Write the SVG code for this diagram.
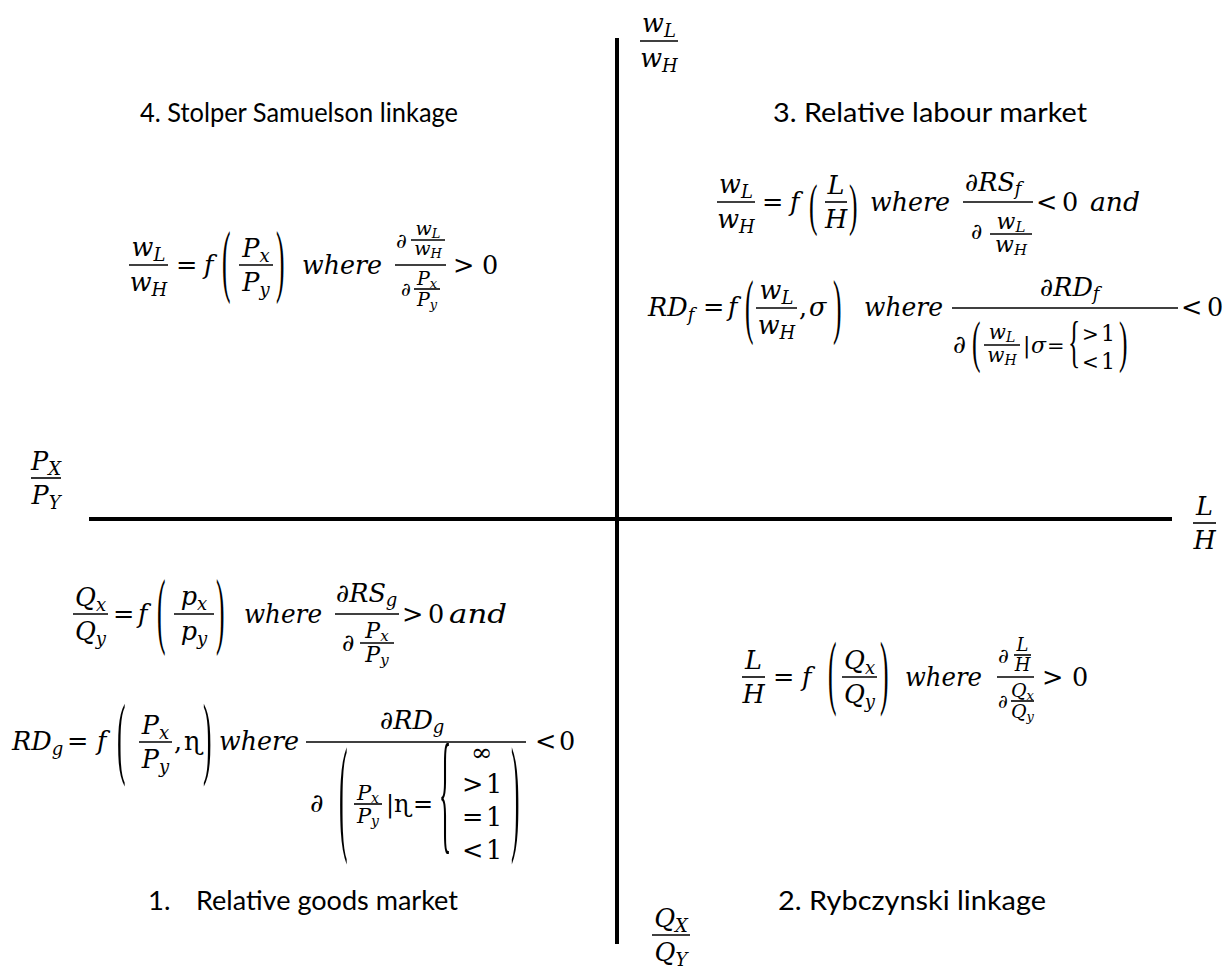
<svg xmlns="http://www.w3.org/2000/svg" width="1230" height="971" viewBox="0 0 1230 971">
<style>
.t{font-family:Lato,"Liberation Sans",sans-serif;font-size:27.5px;fill:#000}
.m{font-family:"DejaVu Serif",serif;font-style:italic;font-size:25.5px;fill:#000}
.u{font-family:"DejaVu Serif",serif;font-style:normal;font-size:25.5px;fill:#000}
.d{font-family:"Liberation Serif","DejaVu Serif",serif;font-style:normal;font-size:25.5px;fill:#000}
.c{text-anchor:middle}
.s{font-size:18px}
.bar{stroke:#000;stroke-width:1.6}
.axis{stroke:#000;stroke-width:4}
</style>
<rect width="1230" height="971" fill="#fff"/>
<g id="axes">
<line class="axis" x1="617" y1="38" x2="617" y2="944"/>
<line class="axis" x1="89" y1="519" x2="1172" y2="519"/>
</g>
<g id="label-wL-wH">
<line class="bar" x1="640" y1="41" x2="678" y2="41"/>
<text class="m c" x="659" y="32">w<tspan class="s" dy="5">L</tspan></text>
<text class="m c" x="659" y="67">w<tspan class="s" dy="5">H</tspan></text>
</g>
<g id="label-PX-PY">
<line class="bar" x1="31" y1="478" x2="61" y2="478"/>
<text class="m c" x="46" y="470">P<tspan class="s" dy="5">X</tspan></text>
<text class="m c" x="46" y="504">P<tspan class="s" dy="5">Y</tspan></text>
</g>
<g id="label-L-H">
<line class="bar" x1="1193" y1="523" x2="1216" y2="523"/>
<text class="m c" x="1204.5" y="515">L</text>
<text class="m c" x="1204.5" y="549">H</text>
</g>
<g id="label-QX-QY">
<line class="bar" x1="652" y1="935" x2="690" y2="935"/>
<text class="m c" x="671" y="927">Q<tspan class="s" dy="5">X</tspan></text>
<text class="m c" x="671" y="961">Q<tspan class="s" dy="5">Y</tspan></text>
</g>
<g id="title4"><text class="t" x="140" y="122" textLength="318" lengthAdjust="spacingAndGlyphs">4. Stolper Samuelson linkage</text></g>
<g id="title3"><text class="t" x="773" y="122" textLength="314" lengthAdjust="spacingAndGlyphs">3. Relative labour market</text></g>
<g id="title1"><text class="t" x="148" y="910">1.</text><text class="t" x="196" y="910" textLength="262" lengthAdjust="spacingAndGlyphs">Relative goods market</text></g>
<g id="title2"><text class="t" x="778" y="910" textLength="268" lengthAdjust="spacingAndGlyphs">2. Rybczynski linkage</text></g>

<g id="eq4">
<line class="bar" x1="129" y1="265" x2="168" y2="265"/>
<text class="m c" x="148.5" y="256">w<tspan class="s" dy="5">L</tspan></text>
<text class="m c" x="148.5" y="291">w<tspan class="s" dy="5">H</tspan></text>
<text class="u" x="176" y="274">=</text>
<text class="m" x="204" y="274">f</text>
<text class="d" transform="translate(222,287.2) scale(1,3.17)">(</text>
<line class="bar" x1="239" y1="265" x2="273" y2="265"/>
<text class="m c" x="256" y="257">P<tspan class="s" dy="5">x</tspan></text>
<text class="m c" x="256" y="291">P<tspan class="s" dy="5">y</tspan></text>
<text class="d" transform="translate(276,287.2) scale(1,3.17)">)</text>
<text class="m" x="302" y="274" textLength="80" lengthAdjust="spacingAndGlyphs">where</text>
<line class="bar" x1="395" y1="265" x2="446" y2="265"/>
<text class="m" x="396" y="248" style="font-size:21px">∂</text>
<line class="bar" x1="411" y1="240" x2="445" y2="240"/>
<text class="m c" x="428" y="235" style="font-size:19px">w<tspan style="font-size:13px" dy="3">L</tspan></text>
<text class="m c" x="428" y="255" style="font-size:19px">w<tspan style="font-size:13px" dy="3">H</tspan></text>
<text class="m" x="401" y="296" style="font-size:19px">∂</text>
<line class="bar" x1="414" y1="289" x2="440" y2="289"/>
<text class="m c" x="427" y="285" style="font-size:19px">P<tspan style="font-size:13px" dy="3">x</tspan></text>
<text class="m c" x="427" y="306" style="font-size:19px">P<tspan style="font-size:13px" dy="3">y</tspan></text>
<text class="u" x="453" y="274">&gt;</text>
<text class="u" x="482" y="274">0</text>
</g>

<g id="eq3a">
<line class="bar" x1="717" y1="202" x2="755" y2="202"/>
<text class="m c" x="736" y="193">w<tspan class="s" dy="5">L</tspan></text>
<text class="m c" x="736" y="228">w<tspan class="s" dy="5">H</tspan></text>
<text class="u" x="762" y="211">=</text>
<text class="m" x="790" y="211">f</text>
<text class="d" transform="translate(809,224.1) scale(1,2.21)">(</text>
<line class="bar" x1="825" y1="202" x2="847" y2="202"/>
<text class="m c" x="836" y="194">L</text>
<text class="m c" x="836" y="228">H</text>
<text class="d" transform="translate(849,224.1) scale(1,2.21)">)</text>
<text class="m" x="870" y="211" textLength="80" lengthAdjust="spacingAndGlyphs">where</text>
<line class="bar" x1="963" y1="202" x2="1033" y2="202"/>
<text class="m" x="965" y="191">∂RS<tspan class="s" dy="4">f</tspan></text>
<text class="m" x="971" y="239" style="font-size:22px">∂</text>
<line class="bar" x1="990" y1="234" x2="1032" y2="234"/>
<text class="m c" x="1011" y="229" style="font-size:22px">w<tspan style="font-size:15px" dy="3">L</tspan></text>
<text class="m c" x="1011" y="252" style="font-size:22px">w<tspan style="font-size:15px" dy="3">H</tspan></text>
<text class="u" x="1036" y="211">&lt;</text>
<text class="u" x="1062" y="211">0</text>
<text class="m" x="1090" y="211" textLength="50" lengthAdjust="spacingAndGlyphs">and</text>
</g>

<g id="eq3b">
<text class="m" x="648" y="316">RD<tspan class="s" dy="5">f</tspan></text>
<text class="u" x="703" y="316">=</text>
<text class="m" x="728" y="316">f</text>
<text class="d" transform="translate(745,329.8) scale(1,2.8)">(</text>
<line class="bar" x1="756" y1="308" x2="797" y2="308"/>
<text class="m c" x="776.5" y="299">w<tspan class="s" dy="5">L</tspan></text>
<text class="m c" x="776.5" y="334">w<tspan class="s" dy="5">H</tspan></text>
<text class="u" x="799" y="316">,</text>
<text class="m" x="809" y="316">σ</text>
<text class="d" transform="translate(833,329.8) scale(1,2.8)">)</text>
<text class="m" x="864" y="316" textLength="79" lengthAdjust="spacingAndGlyphs">where</text>
<line class="bar" x1="952" y1="308" x2="1178" y2="308"/>
<text class="m" x="1040" y="296">∂RD<tspan class="s" dy="4">f</tspan></text>
<text class="m" x="953" y="353" style="font-size:25px">∂</text>
<text class="d" transform="translate(972,361.3) scale(1,2.25)">(</text>
<line class="bar" x1="984" y1="345" x2="1020" y2="345"/>
<text class="m c" x="1002" y="339" style="font-size:20px">w<tspan style="font-size:14px" dy="3">L</tspan></text>
<text class="m c" x="1002" y="362" style="font-size:20px">w<tspan style="font-size:14px" dy="3">H</tspan></text>
<text class="u" x="1023" y="353" style="font-size:22px">|</text>
<text class="m" x="1031" y="353" style="font-size:22px">σ</text>
<text class="u" x="1047" y="353" style="font-size:21px">=</text>
<text class="d" transform="translate(1068,361.3) scale(1,2.25)">{</text>
<text class="u" x="1082" y="341" style="font-size:20px">&gt;</text>
<text class="u" x="1101" y="341" style="font-size:22px">1</text>
<text class="u" x="1082" y="369" style="font-size:20px">&lt;</text>
<text class="u" x="1101" y="369" style="font-size:22px">1</text>
<text class="d" transform="translate(1119,361.3) scale(1,2.25)">)</text>
<text class="u" x="1181" y="316">&lt;</text>
<text class="u" x="1207" y="316">0</text>
</g>

<g id="eq2">
<line class="bar" x1="742" y1="677" x2="765" y2="677"/>
<text class="m c" x="753.5" y="669">L</text>
<text class="m c" x="753.5" y="703">H</text>
<text class="u" x="773" y="686">=</text>
<text class="m" x="802" y="686">f</text>
<text class="d" transform="translate(828,698.5) scale(1,3.22)">(</text>
<line class="bar" x1="842" y1="677" x2="877" y2="677"/>
<text class="m c" x="859.5" y="669">Q<tspan class="s" dy="5">x</tspan></text>
<text class="m c" x="859.5" y="703">Q<tspan class="s" dy="5">y</tspan></text>
<text class="d" transform="translate(880,698.5) scale(1,3.22)">)</text>
<text class="m" x="905" y="686" textLength="77" lengthAdjust="spacingAndGlyphs">where</text>
<line class="bar" x1="997" y1="677" x2="1034" y2="677"/>
<text class="m" x="998" y="663" style="font-size:21px">∂</text>
<line class="bar" x1="1014" y1="655" x2="1031" y2="655"/>
<text class="m c" x="1022.5" y="651" style="font-size:18px">L</text>
<text class="m c" x="1022.5" y="671" style="font-size:18px">H</text>
<text class="m" x="998" y="708" style="font-size:19px">∂</text>
<line class="bar" x1="1011" y1="701" x2="1034" y2="701"/>
<text class="m c" x="1022.5" y="697" style="font-size:19px">Q<tspan style="font-size:13px" dy="3">x</tspan></text>
<text class="m c" x="1022.5" y="718" style="font-size:19px">Q<tspan style="font-size:13px" dy="3">y</tspan></text>
<text class="u" x="1042" y="686">&gt;</text>
<text class="u" x="1072" y="686">0</text>
</g>

<g id="eq1a">
<line class="bar" x1="73" y1="614" x2="108" y2="614"/>
<text class="m c" x="90.5" y="606">Q<tspan class="s" dy="5">x</tspan></text>
<text class="m c" x="90.5" y="640">Q<tspan class="s" dy="5">y</tspan></text>
<text class="u" x="113" y="623">=</text>
<text class="m" x="138" y="623">f</text>
<text class="d" transform="translate(157,638) scale(1,3.31)">(</text>
<line class="bar" x1="174" y1="614" x2="214" y2="614"/>
<text class="m c" x="194" y="605">p<tspan class="s" dy="5">x</tspan></text>
<text class="m c" x="194" y="640">p<tspan class="s" dy="5">y</tspan></text>
<text class="d" transform="translate(216,638) scale(1,3.31)">)</text>
<text class="m" x="244" y="623" textLength="78" lengthAdjust="spacingAndGlyphs">where</text>
<line class="bar" x1="335" y1="614" x2="399" y2="614"/>
<text class="m" x="336" y="602">∂RS<tspan class="s" dy="4">g</tspan></text>
<text class="m" x="342" y="651" style="font-size:24px">∂</text>
<line class="bar" x1="360" y1="643" x2="394" y2="643"/>
<text class="m c" x="377" y="638" style="font-size:22px">P<tspan style="font-size:15px" dy="3">x</tspan></text>
<text class="m c" x="377" y="662" style="font-size:22px">P<tspan style="font-size:15px" dy="3">y</tspan></text>
<text class="u" x="402" y="623">&gt;</text>
<text class="u" x="428" y="623">0</text>
<text class="m" x="449" y="623" textLength="58" lengthAdjust="spacingAndGlyphs">and</text>
</g>

<g id="eq1b">
<text class="m" x="12" y="750">RD<tspan class="s" dy="5">g</tspan></text>
<text class="u" x="67" y="750">=</text>
<text class="m" x="97" y="750">f</text>
<text class="d" transform="translate(117,766.8) scale(1,3.59)">(</text>
<line class="bar" x1="139" y1="742" x2="172" y2="742"/>
<text class="m c" x="155.5" y="734">P<tspan class="s" dy="5">x</tspan></text>
<text class="m c" x="155.5" y="768">P<tspan class="s" dy="5">y</tspan></text>
<text class="u" x="174" y="750">,</text>
<text class="u" x="184" y="750">ɳ</text>
<text class="d" transform="translate(203,766.8) scale(1,3.59)">)</text>
<text class="m" x="219" y="750" textLength="80" lengthAdjust="spacingAndGlyphs">where</text>
<line class="bar" x1="306" y1="742" x2="526" y2="742"/>
<text class="m" x="380" y="729">∂RD<tspan class="s" dy="4">g</tspan></text>
<text class="m" x="310" y="812" style="font-size:26px">∂</text>
<text class="d" transform="translate(339,837.2) scale(1,5.06)">(</text>
<line class="bar" x1="354" y1="804" x2="382" y2="804"/>
<text class="m c" x="368" y="800" style="font-size:21px">P<tspan style="font-size:14px" dy="3">x</tspan></text>
<text class="m c" x="368" y="823" style="font-size:21px">P<tspan style="font-size:14px" dy="3">y</tspan></text>
<text class="u" x="386" y="812" style="font-size:24px">|</text>
<text class="u" x="394" y="812" style="font-size:24px">ɳ</text>
<text class="u" x="413" y="812" style="font-size:24px">=</text>
<text class="d" transform="translate(439,836.1) scale(1,5.2)">{</text>
<text class="u" x="471" y="761">∞</text>
<text class="u" x="462" y="793">&gt;</text>
<text class="u" x="486" y="793">1</text>
<text class="u" x="462" y="826">=</text>
<text class="u" x="486" y="826">1</text>
<text class="u" x="462" y="859">&lt;</text>
<text class="u" x="486" y="859">1</text>
<text class="d" transform="translate(511,837.2) scale(1,5.06)">)</text>
<text class="u" x="535" y="750">&lt;</text>
<text class="u" x="559" y="750">0</text>
</g>
</svg>
